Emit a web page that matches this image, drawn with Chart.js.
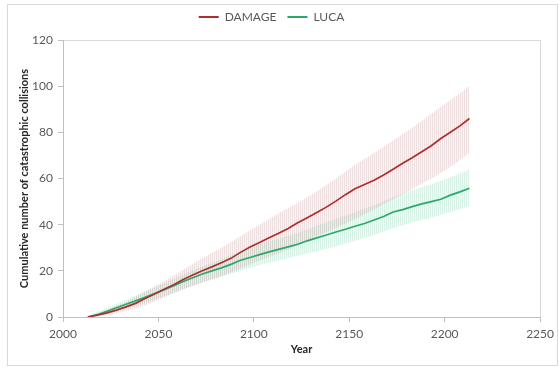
<!DOCTYPE html>
<html>
<head>
<meta charset="utf-8">
<script src="https://cdn.jsdelivr.net/npm/chart.js@4/dist/chart.umd.min.js"></script>
<style>
  html,body{margin:0;padding:0;background:#fff;}
  #wrap{position:relative;width:559px;height:368px;}
</style>
</head>
<body>
<div id="wrap"><canvas id="chart" width="559" height="368"></canvas></div>
<script>
// mean lines, every 5 years
const years5 = [2013,2018,2023,2028,2033,2038,2043,2048,2053,2058,2063,2068,2073,2078,2083,2088,2093,2098,2103,2108,2113,2118,2123,2128,2133,2138,2143,2148,2153,2158,2163,2168,2173,2178,2183,2188,2193,2198,2203,2208,2213];
const damage = [0,0.8,1.8,3.0,4.4,5.9,8.0,10.0,12.0,14.0,16.2,18.2,20.0,21.7,23.5,25.4,28.0,30.3,32.3,34.3,36.3,38.3,40.8,43.0,45.3,47.6,50.2,53.0,55.6,57.4,59.2,61.5,64.0,66.6,69.0,71.6,74.2,77.3,80.0,82.8,86.0];
const luca = [0,1.0,2.5,4.0,5.5,7.0,8.5,10.2,11.8,13.6,15.4,17.0,18.6,20.0,21.3,22.8,24.6,25.8,27.0,28.2,29.3,30.4,31.5,33.0,34.3,35.5,36.8,38.0,39.3,40.5,42.0,43.5,45.5,46.5,47.8,49.0,50.0,51.0,52.8,54.2,55.8];

// spread (error bars), every 10 years
const years10 = [2013,2023,2033,2043,2053,2063,2073,2083,2093,2103,2113,2123,2133,2143,2153,2163,2173,2183,2193,2203,2213];
const damageHi = [0.5,3,6.5,11,15.5,20.5,25.5,30,35,40,45,49.5,54.5,60,66,71,76.5,82,88,94,100];
const damageLo = [0,0.8,2.5,5,8.5,12,15,17.5,21,24.5,27.5,31,35,38.5,42.5,46.5,51,55.5,60,65,71];
const lucaHi = [0.3,4,7.5,11,14.5,18.5,22,25,28.5,31.5,34,36.5,39.5,42.5,45.5,48.5,52,55,57.5,60.5,64];
const lucaLo = [0,1.3,3.5,6,9,12,15,17.5,20,22.5,24.5,26.5,28.5,30.5,33,35.5,38.5,41,43,45.5,48];

const xTicks = [2000,2050,2100,2150,2200,2250];
const yTicks = [0,20,40,60,80,100,120];

const pts = (xs, ys) => xs.map((x,i)=>({x, y: ys[i]}));

function stripes(c1, c2){
  const p = document.createElement('canvas');
  p.width = 2; p.height = 1;
  const g = p.getContext('2d');
  g.fillStyle = c1; g.fillRect(0,0,1,1);
  g.fillStyle = c2; g.fillRect(1,0,1,1);
  return g.createPattern(p, 'repeat');
}

const RED = '#aa302d', GREEN = '#2fa768';
const axisGrey = '#bfbfbf', textGrey = '#595959';
const FONT = 'Lato, "Liberation Sans", sans-serif';

const frame = {
  id:'frame',
  beforeDraw(chart){
    const c = chart.ctx, a = chart.chartArea;
    c.save();
    c.fillStyle = '#fff'; c.fillRect(0,0,chart.width,chart.height);
    c.strokeStyle = '#d9d9d9'; c.lineWidth = 1;
    c.strokeRect(7.5, 4.5, 550, 361);
    c.strokeRect(Math.round(a.left)+0.5, Math.round(a.top)+0.5, Math.round(a.right-a.left), Math.round(a.bottom-a.top));
    c.restore();
  }
};

const legendSpacer = {
  id:'legendSpacer',
  beforeInit(chart){
    if(!chart.legend) return;
    const fit = chart.legend.fit;
    chart.legend.fit = function(){ fit.call(this); this.height = 40; };
  }
};

const lineDs = (label, xs, ys, color) => ({
  label, data: pts(xs, ys), borderColor: color, backgroundColor: color,
  borderWidth: 1.7, pointRadius: 0, fill: false, tension: 0
});
const bandDs = (label, xs, ys, fill, bg) => ({
  label, data: pts(xs, ys), borderWidth: 0, borderColor: 'rgba(0,0,0,0)',
  backgroundColor: bg, pointRadius: 0, fill, tension: 0
});

new Chart(document.getElementById('chart').getContext('2d'), {
  type: 'line',
  data: {
    datasets: [
      lineDs('DAMAGE', years5, damage, RED),
      lineDs('LUCA', years5, luca, GREEN),
      bandDs('damageHi', years10, damageHi, '+1', stripes('rgba(200,150,155,0.30)','rgba(200,150,155,0.10)')),
      bandDs('damageLo', years10, damageLo, false, 'rgba(0,0,0,0)'),
      bandDs('lucaHi', years10, lucaHi, '+1', stripes('rgba(120,210,170,0.28)','rgba(120,210,170,0.10)')),
      bandDs('lucaLo', years10, lucaLo, false, 'rgba(0,0,0,0)')
    ]
  },
  options: {
    responsive: false,
    animation: false,
    layout: { padding: { left: 0, right: 16, top: 0, bottom: 0 } },
    plugins: {
      tooltip: { enabled: false },
      legend: {
        position: 'top',
        labels: {
          boxWidth: 20, boxHeight: 2, padding: 11,
          color: textGrey, font: { family: FONT, size: 12 },
          generateLabels: chart => Chart.defaults.plugins.legend.labels.generateLabels(chart)
            .filter(l => l.datasetIndex < 2)
            .map(l => Object.assign(l, { lineWidth: 0 }))
        }
      }
    },
    scales: {
      x: {
        type: 'linear', min: 2000, max: 2250,
        afterBuildTicks: s => { s.ticks = xTicks.map(v => ({ value: v })); },
        afterFit: s => { s.height = 51; },
        grid: { drawOnChartArea: false, drawTicks: true, tickLength: 5, color: axisGrey },
        border: { color: axisGrey },
        ticks: { color: textGrey, padding: 5, maxRotation: 0, font: { family: FONT, size: 12 }, callback: v => String(v) },
        title: { display: true, text: 'Year', color: '#262626', padding: { top: 0, bottom: 12 }, font: { family: FONT, size: 11, weight: 'bold' } }
      },
      y: {
        min: 0, max: 120,
        afterBuildTicks: s => { s.ticks = yTicks.map(v => ({ value: v })); },
        afterFit: s => { s.width = 63; },
        grid: { drawOnChartArea: false, drawTicks: true, tickLength: 5, color: axisGrey },
        border: { color: axisGrey },
        ticks: { color: textGrey, padding: 5, font: { family: FONT, size: 12 }, callback: v => String(v) },
        title: { display: true, text: 'Cumulative number of catastrophic collisions', color: '#262626', padding: { top: 18, bottom: 0 }, font: { family: FONT, size: 11, weight: 'bold' } }
      }
    }
  },
  plugins: [frame, legendSpacer]
});
</script>
</body>
</html>
